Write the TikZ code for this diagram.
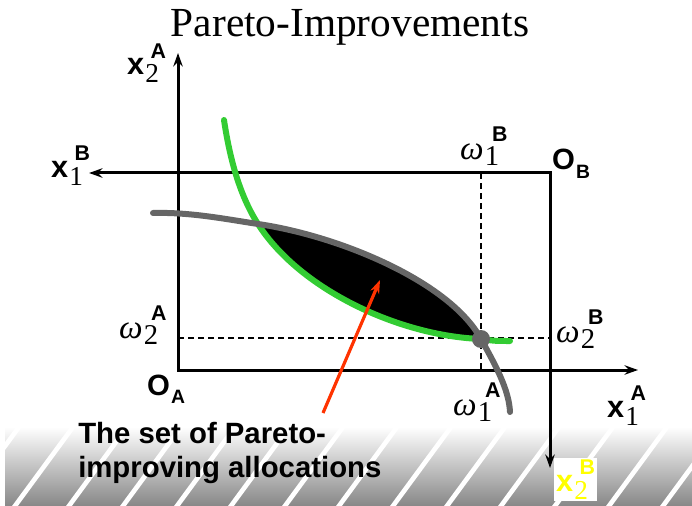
\documentclass[tikz,border=0pt]{standalone}
\usepackage{fontspec}
\setmainfont{Liberation Serif}
\setsansfont{Liberation Sans}
\usetikzlibrary{arrows.meta}
\definecolor{lime}{RGB}{51,204,51}
\definecolor{slate}{RGB}{102,102,102}
\definecolor{flame}{RGB}{255,51,0}
\definecolor{lemon}{RGB}{255,255,0}
% labels: x with digit below and letter above
\newcommand{\axlab}[3]{{\fontsize{23}{23}\selectfont\sffamily\bfseries #1}\kern1pt%
  \rlap{\raisebox{-6pt}{\fontsize{20.5}{20.5}\selectfont\rmfamily #2}}%
  \raisebox{12.5pt}{\kern4pt\fontsize{16}{16}\selectfont\sffamily\bfseries #3}}
\newcommand{\omlab}[2]{{\fontsize{25}{25}\selectfont\itshape ω}\kern1pt%
  \rlap{\raisebox{-4.5pt}{\fontsize{21.5}{21.5}\selectfont\rmfamily #1}}%
  \raisebox{13.5pt}{\kern5.5pt\fontsize{16}{16}\selectfont\sffamily\bfseries #2}}
\newcommand{\orig}[1]{{\fontsize{22}{22}\selectfont\sffamily\bfseries O}\kern1pt%
  \raisebox{-6pt}{\fontsize{14.5}{14.5}\selectfont\sffamily\bfseries #1}}
\tikzset{
  >={Stealth[length=10pt,width=7pt]},
  axis/.style={line width=2.25pt},
  guide/.style={line width=1.4pt,dash pattern=on 4.5pt off 3pt},
  indiff/.style={line width=4.5pt,draw=#1,line cap=round},
  indiff/.default=slate,
  stripe/.style={draw=white,line width=3.5pt},
  pointer/.style={->,draw=flame,fill=flame,line width=2.4pt},
  lbl/.style={anchor=base west,inner sep=0pt,outer sep=0pt},
  title/.style={font=\fontsize{31}{31}\selectfont,anchor=base},
  caption/.style={anchor=north west,align=left,inner sep=0pt,
    font=\fontsize{22}{25.5}\selectfont\sffamily\bfseries},
}

\begin{document}
\begin{tikzpicture}[x=0.75pt,y=-0.75pt]
  \useasboundingbox (0,0) rectangle (692,506);
  % hatched band at the bottom
  \shade[top color=white,bottom color=black!47] (5,427) rectangle (692,506);
  \begin{scope}
    \clip (5,427) rectangle (692,506);
    \foreach \k in {-1,...,12}
      \draw[stripe] ({12+54*\k},510) -- ++(61,-83);
  \end{scope}

  \node[title] (ttl) at (350,37) {Pareto-Improvements};

  \coordinate (OA) at (178,370);
  \coordinate (OB) at (550,173);
  \coordinate (xA1) at (638,370);
  \coordinate (xA2) at (178,53);
  \coordinate (xB1) at (89,173);
  \coordinate (xB2) at (550,468);
  \coordinate (I) at (258,224);
  \coordinate (E) at (481,339);

  % endowment guides
  \draw[guide] (481,173) -- (481,370);
  \draw[guide] (178,338) -- (550,338);

  \draw[axis,<->] (xA2) -- (OA) -- (xA1);
  \draw[axis,<->] (xB1) -- (OB) -- (xB2);

  % lens of Pareto improvements
  \fill[black] (I) .. controls (340,236) and (450,282) .. (E)
    .. controls (400,336) and (300,290) .. (I) -- cycle;
  \draw[indiff=lime] (224,120) .. controls (230,160) and (240,196) .. (I)
    .. controls (300,290) and (400,336) .. (E)
    .. controls (495,341) .. (510,341);
  \draw[indiff] (153,213) .. controls (190,212) and (225,219) .. (I)
    .. controls (340,236) and (450,282) .. (E)
    .. controls (496,366) and (509,390) .. (510,412);
  \node[circle,fill=slate,minimum size=13.5pt,inner sep=0pt] (endow) at (E) {};

  \node[lbl] (lxA2) at (127,75) {\axlab{x}{2}{A}};
  \node[lbl] (lxB1) at (51,177) {\axlab{x}{1}{B}};
  \node[lbl] (lxA1) at (607,417) {\axlab{x}{1}{A}};
  \node[lbl,fill=white,inner sep=1.5pt,text=lemon] (lxB2) at (554,491) {\axlab{x}{2}{B}};
  \node[lbl] (lOA) at (147,395) {\orig{A}};
  \node[lbl] (lOB) at (552,170) {\orig{B}};
  \node[lbl] (lw1B) at (460,160) {\omlab{1}{B}};
  \node[lbl] (lw2A) at (119,338) {\omlab{2}{A}};
  \node[lbl] (lw2B) at (556,342) {\omlab{2}{B}};
  \node[lbl] (lw1A) at (453,415) {\omlab{1}{A}};

  \node[caption] (cap) at (78,421.5) {The set of Pareto-\\improving allocations};
  \coordinate (tail) at (323,413);
  \coordinate (tip) at (380,280);
  \draw[pointer] (tail) -- (tip);
\end{tikzpicture}
\end{document}
